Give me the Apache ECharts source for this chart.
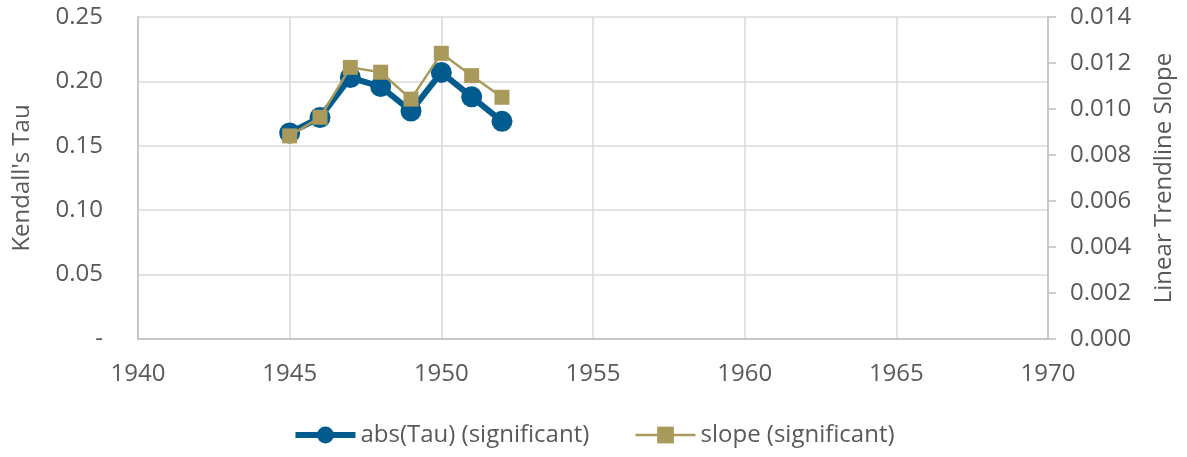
<!DOCTYPE html>
<html>
<head>
<meta charset="utf-8">
<script src="https://cdn.jsdelivr.net/npm/echarts@6/dist/echarts.min.js"></script>
<style>
  html, body { margin: 0; padding: 0; background: #fff; }
  #chart { width: 1187px; height: 457px; }
</style>
</head>
<body>
<div id="chart"></div>
<script>
  // data
  var years = [1945, 1946, 1947, 1948, 1949, 1950, 1951, 1952];
  var tauValues = [0.160, 0.172, 0.203, 0.196, 0.177, 0.207, 0.188, 0.169];
  var slopeValues = [0.00883, 0.00964, 0.01181, 0.01160, 0.01043, 0.01242, 0.01145, 0.01051];

  var tauColor = '#015B8F';
  var slopeColor = '#A99A5B';
  var textColor = '#595959';
  var font = 'Open Sans';
  var fs = 24;

  function pairs(xs, ys) {
    var out = [];
    for (var i = 0; i < xs.length; i++) out.push([xs[i], ys[i]]);
    return out;
  }

  var chart = echarts.init(document.getElementById('chart'));
  chart.setOption({
    animation: false,
    textStyle: { fontFamily: font, color: textColor },
    grid: { left: 138, right: 139, top: 17, bottom: 118 },
    legend: {
      bottom: 5,
      left: 'center',
      itemWidth: 60,
      itemHeight: 21,
      itemGap: 45,
      textStyle: { fontFamily: font, fontSize: fs, color: textColor },
      data: [
        { name: 'abs(Tau) (significant)', lineStyle: { width: 6 } },
        { name: 'slope (significant)', lineStyle: { width: 2.5 } }
      ]
    },
    xAxis: {
      type: 'value',
      min: 1940, max: 1970, interval: 5,
      axisLine: { show: true, lineStyle: { color: '#BFBFBF', width: 1.5 } },
      axisTick: { show: false },
      axisLabel: {
        color: textColor, fontSize: fs, margin: 23, fontFamily: font,
        formatter: function (v) { return String(v); }
      },
      splitLine: { show: true, lineStyle: { color: '#D9D9D9', width: 1.5 } }
    },
    yAxis: [{
      type: 'value',
      min: 0, max: 0.25, interval: 0.05,
      name: "Kendall's Tau",
      nameLocation: 'middle',
      nameGap: 104,
      nameTextStyle: { fontSize: fs, color: textColor, fontFamily: font },
      axisLine: { show: true, lineStyle: { color: '#BFBFBF', width: 1.5 } },
      axisTick: { show: false },
      axisLabel: {
        color: textColor, fontSize: fs, margin: 35, fontFamily: font,
        formatter: function (v) { return v === 0 ? '-' : v.toFixed(2); }
      },
      splitLine: { show: true, lineStyle: { color: '#D9D9D9', width: 1.5 } }
    }, {
      type: 'value',
      min: 0, max: 0.014, interval: 0.002,
      name: 'Linear Trendline Slope',
      nameLocation: 'middle',
      nameGap: 104,
      nameRotate: 90,
      nameTextStyle: { fontSize: fs, color: textColor, fontFamily: font },
      axisLine: { show: true, lineStyle: { color: '#BFBFBF', width: 1.5 } },
      axisTick: { show: true, length: 8, lineStyle: { color: '#BFBFBF', width: 1.5 } },
      axisLabel: {
        color: textColor, fontSize: fs, margin: 22, fontFamily: font,
        formatter: function (v) { return v.toFixed(3); }
      },
      splitLine: { show: false }
    }],
    series: [{
      name: 'abs(Tau) (significant)',
      type: 'line',
      yAxisIndex: 0,
      data: pairs(years, tauValues),
      symbol: 'circle',
      symbolSize: 21,
      lineStyle: { color: tauColor, width: 6 },
      itemStyle: { color: tauColor },
      z: 2
    }, {
      name: 'slope (significant)',
      type: 'line',
      yAxisIndex: 1,
      data: pairs(years, slopeValues),
      symbol: 'rect',
      symbolSize: 15,
      lineStyle: { color: slopeColor, width: 2.5 },
      itemStyle: { color: slopeColor },
      z: 3
    }]
  });
</script>
</body>
</html>
